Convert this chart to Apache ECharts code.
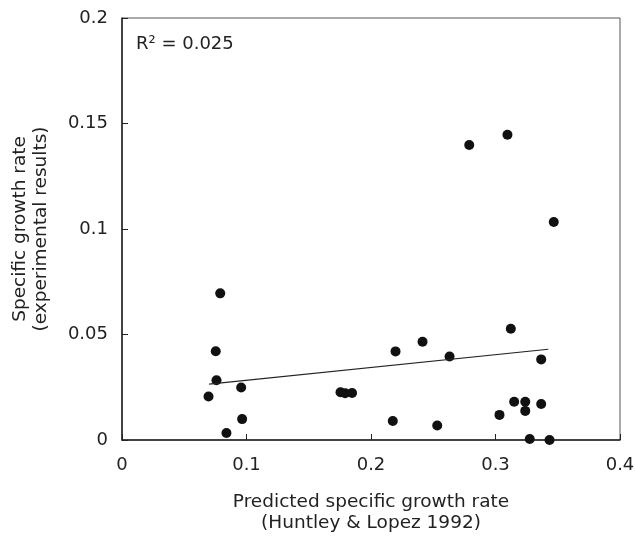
<!DOCTYPE html>
<html>
<head>
<meta charset="utf-8">
<script src="https://cdn.jsdelivr.net/npm/echarts@6/dist/echarts.min.js"></script>
<style>html,body{margin:0;padding:0;background:#fff}#c{width:635px;height:538px}</style>
</head>
<body>
<div id="c"></div>
<script>
const predicted = [0.0695,0.0753,0.0759,0.0789,0.0839,0.0957,0.0965,0.1755,0.1792,0.1848,0.2175,0.2197,0.2414,0.2532,0.2631,0.2789,0.3032,0.3096,0.3123,0.3150,0.3239,0.3239,0.3275,0.3367,0.3367,0.3434,0.3468];
const observed  = [0.0206,0.0421,0.0283,0.0695,0.0033,0.0249,0.0099,0.0226,0.0222,0.0223,0.0090,0.0420,0.0466,0.0069,0.0396,0.1398,0.0119,0.1447,0.0527,0.0181,0.0181,0.0138,0.0005,0.0382,0.0171,0.0000,0.1033];
const fitX = [0.07, 0.3424];
const fitY = [0.0265, 0.0430];
const xTicks = [0, 0.1, 0.2, 0.3, 0.4];
const yTicks = [0, 0.05, 0.1, 0.15, 0.2];
const r2Label = 'R² = 0.025';

const chart = echarts.init(document.getElementById('c'));
const font = '"DejaVu Sans", sans-serif';
chart.setOption({
  animation: false,
  backgroundColor: '#fff',
  grid: {left: 122, right: 15, top: 18, bottom: 98, containLabel: false, outerBoundsMode: 'none',
         show: true, borderColor: '#555', borderWidth: 1},
  xAxis: {
    type: 'value', min: xTicks[0], max: xTicks[xTicks.length-1], interval: 0.1,
    axisLine: {lineStyle: {color: '#222', width: 1.5}},
    axisTick: {inside: true, length: 6, lineStyle: {color: '#222'}},
    splitLine: {show: false},
    axisLabel: {color: '#222', fontSize: 18, fontFamily: font, margin: 16, formatter: v => String(+v.toFixed(2))},
    name: 'Predicted specific growth rate\n(Huntley & Lopez 1992)',
    nameLocation: 'middle', nameGap: 51,
    nameTextStyle: {color: '#222', fontSize: 18.5, fontFamily: font, lineHeight: 21.5}
  },
  yAxis: {
    type: 'value', min: yTicks[0], max: yTicks[yTicks.length-1], interval: 0.05,
    axisLine: {lineStyle: {color: '#222', width: 1.5}},
    axisTick: {inside: true, length: 6, lineStyle: {color: '#222'}},
    splitLine: {show: false},
    axisLabel: {color: '#222', fontSize: 18, fontFamily: font, margin: 14, formatter: v => String(+v.toFixed(2))},
    name: 'Specific growth rate\n(experimental results)',
    nameLocation: 'middle', nameGap: 70,
    nameTextStyle: {color: '#222', fontSize: 18.5, fontFamily: font, lineHeight: 21}
  },
  graphic: [{type: 'text', left: 136, top: 35, style: {text: r2Label, fontSize: 18, fontFamily: font, fill: '#222'}}],
  series: [
    {type: 'scatter', data: predicted.map((x,i)=>[x, observed[i]]), symbolSize: 10, itemStyle: {color: '#111', opacity: 1}},
    {type: 'line', data: fitX.map((x,i)=>[x, fitY[i]]), symbol: 'none', lineStyle: {color: '#222', width: 1.2}}
  ]
});
</script>
</body>
</html>
